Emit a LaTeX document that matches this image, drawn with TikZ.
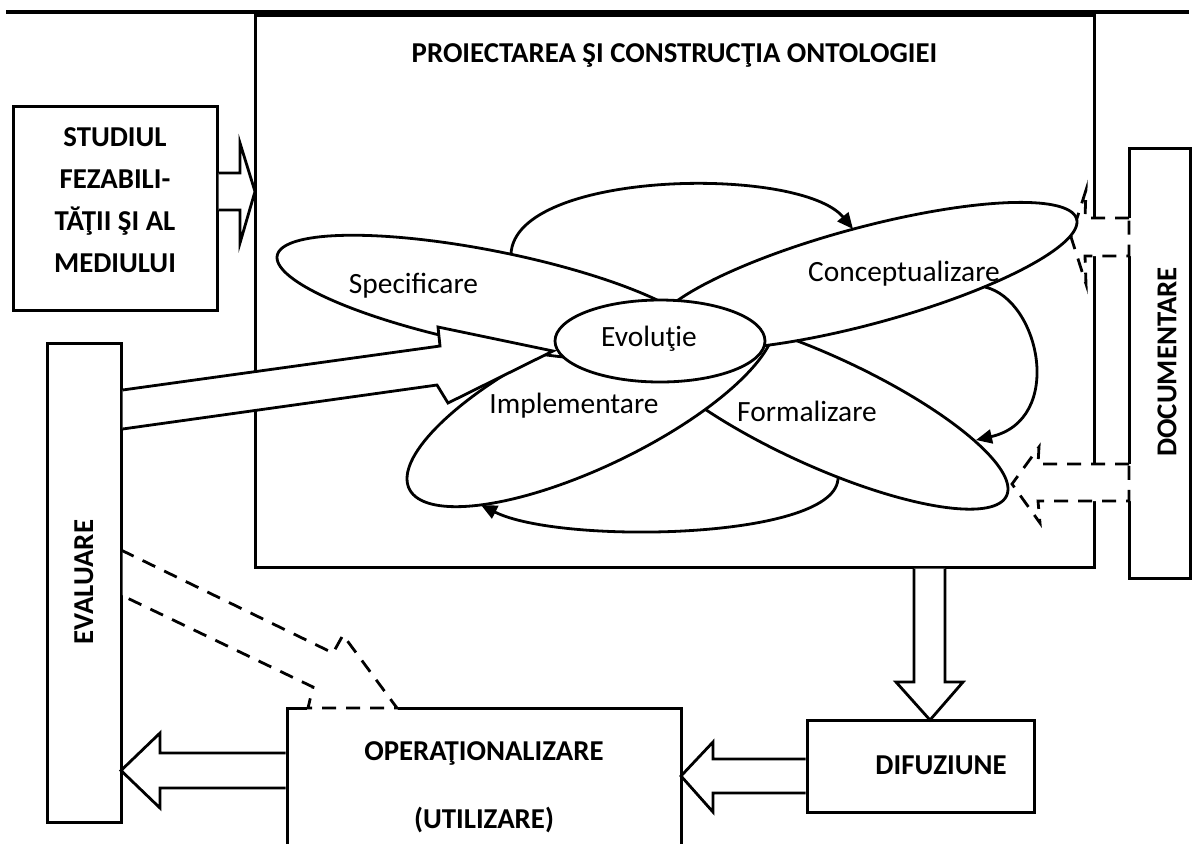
\documentclass[tikz,border=0pt]{standalone}
\usepackage{fontspec}
\setmainfont{Carlito}
\usetikzlibrary{arrows.meta,shapes.geometric}
\begin{document}
\begin{tikzpicture}[x=0.5pt,y=-0.5pt,
  box/.style={draw, line width=1.5pt, inner sep=0pt},
  caps/.style={font=\bfseries\fontsize{14.4pt}{21pt}\selectfont, align=center, inner sep=0pt},
  petal/.style={draw, line width=1.4pt, fill=white},
  ptxt/.style={font=\fontsize{14.7pt}{18pt}\selectfont, inner sep=0pt, anchor=base},
  blk/.style={draw, line width=1.4pt, fill=white, line join=miter, miter limit=20},
  dblk/.style={line width=1.4pt, line join=miter, miter limit=20, dash pattern=on 7pt off 5pt},
  cur/.style={line width=1.4pt, -{Triangle[length=8pt,width=7pt]}},
]
\clip (0,0) rectangle (1194,843);
\fill[white] (0,0) rectangle (1194,843);
% header rule
\draw[line width=2pt] (6,12) -- (1189,12);

% boxes
\node[box, minimum width=419.5pt, minimum height=276pt] (main) at (674.5,291) {};
\node[box, minimum width=102pt, minimum height=102pt] (studiu) at (115,208) {};
\node[box, minimum width=37pt, minimum height=239.5pt] (eval) at (84,582.5) {};
\node[box, minimum width=30.5pt, minimum height=215pt] (doc) at (1159.5,363) {};
\node[box, minimum width=197pt, minimum height=96pt] (oper) at (484,804) {};
\node[box, minimum width=113.5pt, minimum height=46pt] (dif) at (920.5,766) {};

% box captions
\node[caps] (title) at (674.5,55) {PROIECTAREA ŞI CONSTRUCŢIA ONTOLOGIEI};
\node[caps] (studiutxt) at (115,200) {STUDIUL\\FEZABILI-\\TĂŢII ŞI AL\\MEDIULUI};
\node[caps, rotate=90] (evaltxt) at (84,582) {EVALUARE};
\node[caps, rotate=90] (doctxt) at (1167,362) {DOCUMENTARE};
\node[caps] (opertxt) at (484,753) {OPERAŢIONALIZARE};
\node[caps] (utiltxt) at (484,820) {(UTILIZARE)};
\node[caps] (diftxt) at (941,765) {DIFUZIUNE};

% block arrows between the boxes
\draw[blk] (218.5,173) -- (240,173) -- (240,143) -- (255,191.5) -- (240,243) -- (240,210) -- (218.5,210);
\draw[blk] (914,568.5) -- (914,682) -- (896,682) -- (930,720) -- (963,682) -- (945,682) -- (945,568.5);
\draw[blk] (805.5,759) -- (713,759) -- (713,742) -- (681,776) -- (713,812) -- (713,793) -- (805.5,793);
\draw[blk] (285.5,753) -- (160,753) -- (160,733) -- (121,770.5) -- (160,808) -- (160,788) -- (285.5,788);

% dashed arrows from DOCUMENTARE
\fill[white] (1131,218) -- (1085,218) -- (1086,190) -- (1071,237) -- (1086,284) -- (1085,256) -- (1131,256) -- cycle;
\draw[dblk] (1129,218) -- (1085,218) -- (1086,190) -- (1071,237) -- (1086,284) -- (1085,256) -- (1129,256) -- cycle;
\fill[white] (1131,464) -- (1038,464) -- (1039,447) -- (1012,484) -- (1040,523) -- (1038,501) -- (1131,501) -- cycle;
\draw[dblk] (1129,464) -- (1038,464) -- (1039,447) -- (1012,484) -- (1040,523) -- (1038,501) -- (1129,501) -- cycle;

% dashed arrow from EVALUARE to OPERATIONALIZARE
\fill[white] (122.5,550) -- (333,653) -- (343,635) -- (398,710) -- (307,710) -- (313,687) -- (122.5,595) -- cycle;
\draw[dblk] (121,550) -- (333,653) -- (343,635) -- (397,708) -- (308,708) -- (313,687) -- (121,595);

% petals
\draw[petal] plot[domain=0:360, samples=145, variable=\t] ({820+188*cos(\t)},{410+78.96*cos(\t)+60*sin(\t)}) -- cycle;
\draw[petal] plot[domain=0:360, samples=145, variable=\t] ({591+184*cos(\t)},{401.4-77.28*cos(\t)+71.5*sin(\t)}) -- cycle;
\draw[petal] plot[domain=0:360, samples=145, variable=\t] ({490+213*cos(\t)},{298+40.47*cos(\t)+48*sin(\t)}) -- cycle;
\draw[petal] plot[domain=0:360, samples=145, variable=\t] ({865+212*cos(\t)},{276-54.06*cos(\t)+50*sin(\t)}) -- cycle;

% arrow from EVALUARE into the centre
\draw[blk] (122.5,390) -- (440,346) -- (438,327) -- (553,351) -- (448,403) -- (437,385) -- (122.5,429);

% centre
\node[petal, ellipse, minimum width=105pt, minimum height=41pt, inner sep=0pt] (evol) at (660,341) {};

% cycle arrows between petals
\coordinate (s1) at (511,254);
\coordinate (e1) at (853,229);
\coordinate (s2) at (985,287);
\coordinate (e2) at (976,440);
\coordinate (s3) at (838,477);
\coordinate (e3) at (481,505);
\draw[cur] (s1) .. controls (515,170) and (800,165) .. (e1);
\draw[cur] (s2) .. controls (1040,300) and (1065,420) .. (e2);
\draw[cur] (s3) .. controls (840,540) and (560,545) .. (e3);

% petal labels
\node[ptxt] (spectxt) at (413.5,293) {Specificare};
\node[ptxt] (concepttxt) at (904,281) {Conceptualizare};
\node[ptxt] (evoltxt) at (649,346) {Evoluţie};
\node[ptxt] (impltxt) at (574,413) {Implementare};
\node[ptxt] (formtxt) at (807,421) {Formalizare};
\end{tikzpicture}
\end{document}
